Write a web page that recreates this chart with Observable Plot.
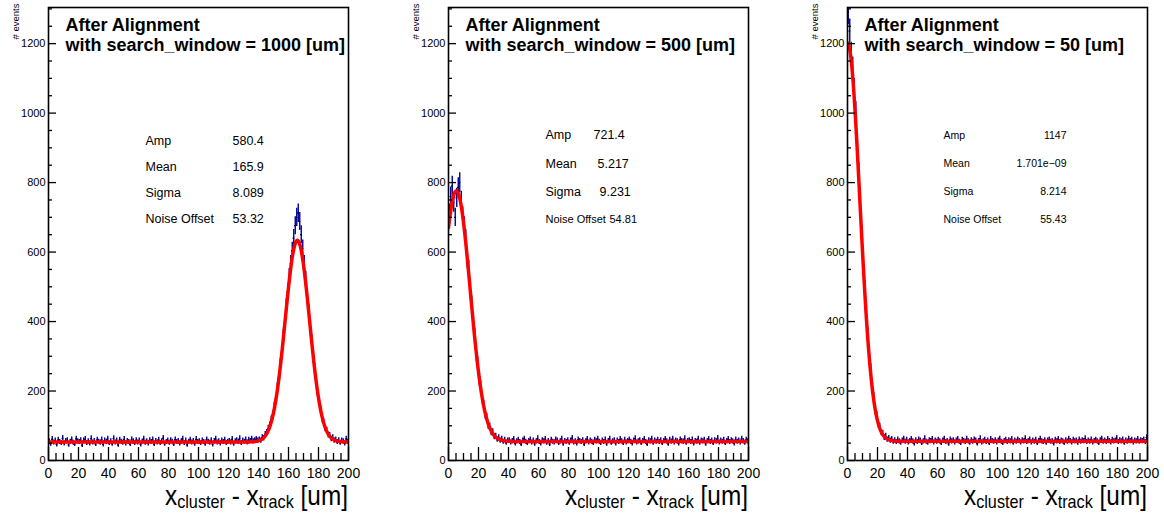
<!DOCTYPE html>
<html>
<head>
<meta charset="utf-8">
<script src="https://cdn.jsdelivr.net/npm/d3@7"></script>
<script src="https://cdn.jsdelivr.net/npm/@observablehq/plot@0.6"></script>
<style>
  body { margin: 0; background: #fff; }
  #chart { position: relative; width: 1164px; height: 513px; overflow: hidden; background: #fff; }
  #chart svg { position: absolute; top: 0; overflow: visible; }
</style>
</head>
<body>
<div id="chart"></div>
<script>
// ---- data ---------------------------------------------------------------
const searchWindows = [1000, 500, 50];           // um
const binWidth = 1;                              // um, histogram range 0..200
const xTicks = d3.range(0, 201, 20);
const yTicks = d3.range(0, 1201, 200);

// residual counts per bin, search_window = 1000 um
const counts1000 = [
  55,48,61,52,57,46,59,53,50,64,49,56,58,45,54,60,51,47,62,55,
  53,58,44,57,61,50,55,49,63,52,56,47,59,54,51,60,46,57,53,62,
  50,55,48,63,52,57,45,59,54,51,61,49,56,53,47,60,55,50,58,52,
  57,46,54,62,51,55,49,58,53,60,47,56,52,59,50,55,64,48,53,57,
  51,58,54,47,60,53,56,49,55,62,50,57,45,54,59,52,56,48,61,53,
  55,50,57,53,48,60,54,51,58,46,56,62,52,55,49,57,53,59,50,54,
  56,52,61,48,55,58,53,63,50,57,54,60,52,59,56,62,55,58,61,57,
  60,57,66,64,75,80,92,101,117,131,155,176,208,238,276,312,358,396,444,486,
  530,566,604,640,676,700,712,688,650,610,566,522,474,430,388,344,298,262,230,190,
  170,146,120,110,92,86,73,72,62,66,57,60,53,58,51,57,55,49,62,54
];
// residual counts per bin, search_window = 500 um
const counts500 = [
  712,760,790,742,700,756,786,800,748,704,676,640,578,552,488,452,396,362,304,282,
  232,214,176,160,130,124,100,98,80,82,68,70,60,66,57,62,54,59,51,57,
  58,52,56,61,49,55,59,53,47,57,62,54,50,56,60,52,57,48,55,63,
  53,49,58,55,61,51,56,47,59,54,52,60,57,50,55,62,48,56,53,58,
  51,57,64,52,55,49,60,56,53,58,47,55,61,52,57,54,50,59,55,62,
  54,50,57,53,60,48,56,62,51,55,58,49,57,53,61,55,50,59,52,56,
  60,54,49,57,63,52,55,58,50,56,61,53,47,58,55,62,51,57,54,59,
  53,58,50,56,61,55,48,59,54,62,52,57,55,49,60,56,53,63,51,56,
  58,53,60,49,56,54,62,51,57,55,59,48,56,61,53,57,50,58,55,64,
  52,57,54,59,50,56,61,53,58,55,49,60,54,57,52,62,56,51,59,55
];
// residual counts per bin, search_window = 50 um
const counts50 = [
  1290,1236,1170,1128,1066,1002,906,828,740,652,560,496,410,366,294,262,204,182,144,130,
  104,98,80,78,66,70,60,64,57,61,54,58,53,60,55,51,57,62,54,59,
  52,56,61,55,49,58,53,60,57,50,55,63,54,51,58,56,61,52,57,54,
  59,55,50,57,62,53,56,48,60,55,58,52,57,61,54,50,59,56,53,62,
  55,51,58,54,60,57,49,56,63,52,55,59,53,57,50,61,56,54,58,52,
  57,62,54,50,56,59,53,58,55,61,51,57,54,60,56,52,58,55,63,53,
  56,60,52,57,54,59,50,56,62,55,53,58,51,57,60,54,56,49,59,55,
  61,53,57,55,50,58,54,62,56,52,59,55,57,51,60,54,58,56,63,53,
  57,54,60,52,56,59,55,50,58,62,54,57,53,61,56,52,59,55,57,64,
  53,58,55,60,51,57,54,62,56,59,52,57,55,61,54,58,56,60,53,66
];

// Gaussian + constant fit results
const fitAmp    = [580.4, 721.4, 1147];
const fitMean   = [165.9, 5.217, 1.701e-9];
const fitSigma  = [8.089, 9.231, 8.214];
const fitOffset = [53.32, 54.81, 55.43];

const countsList = [counts1000, counts500, counts50];

// ---- layout / style -----------------------------------------------------
const FONT = '"Liberation Sans", Arial, Helvetica, sans-serif';
const BLUE = "#00009c";
const W = 365, H = 513;
const M = {left: 48, right: 17, top: 7, bottom: 53};
const frameW = W - M.left - M.right;   // 300
const frameH = H - M.top - M.bottom;   // 453
const panelLeft = [0, 400, 799];

// stats box layout for each panel (offsets from the frame's top-left corner);
// each row is sized to fit the box, so row font sizes can differ
const statsLayout = [
  {labelDx: 97, rows: [133, 159, 185, 211], fontSize: [12.5, 12.5, 12.5, 12.5], valueDx: [184, 184, 184, 184], anchor: "start"},
  {labelDx: 97, rows: [127, 156, 184, 212], fontSize: [12.5, 12.5, 12.5, 11], valueDx: [145, 149, 151, 161], anchor: "start"},
  {labelDx: 96, rows: [128, 156, 184, 212], fontSize: [10.5, 10.5, 10.5, 10.5], valueDx: [219, 219, 219, 219], anchor: "end"}
];

function fmt(v) {
  if (v !== 0 && Math.abs(v) < 1e-3) {
    const [m, e] = v.toExponential(3).split("e");
    const ev = Math.abs(+e);
    return `${m}e${+e < 0 ? "\u2212" : "+"}${String(ev).padStart(2, "0")}`;
  }
  return d3.format(".4g")(v);
}

function panel(i) {
  const counts = countsList[i];
  const bins = counts.map((n, k) => ({
    x0: k * binWidth, x1: (k + 1) * binWidth, xc: (k + 0.5) * binWidth, n, err: Math.sqrt(n)
  }));
  const A = fitAmp[i], mu = fitMean[i], s = fitSigma[i], c = fitOffset[i];
  const fit = d3.range(0, 200.0001, 0.25).map(x => ({x, y: A * Math.exp(-0.5 * ((x - mu) / s) ** 2) + c}));

  const xMinor = d3.range(0, 201, 5).filter(v => v % 20);
  const yMinor = d3.range(0, 1301, 50).filter(v => v % 200);

  const st = statsLayout[i];
  const statNames = ["Amp", "Mean", "Sigma", "Noise Offset"];
  const statVals = [A, mu, s, c].map(fmt);
  const statMarks = [];
  statNames.forEach((name, r) => {
    statMarks.push(Plot.text([name], {frameAnchor: "top-left", dx: st.labelDx, dy: st.rows[r],
      textAnchor: "start", lineAnchor: "middle", fontSize: st.fontSize[r], fill: "black"}));
    statMarks.push(Plot.text([statVals[r]], {frameAnchor: "top-left", dx: st.valueDx[r], dy: st.rows[r],
      textAnchor: st.anchor, lineAnchor: "middle", fontSize: st.fontSize[r], fill: "black"}));
  });

  const svg = Plot.plot({
    width: W, height: H,
    marginLeft: M.left, marginRight: M.right, marginTop: M.top, marginBottom: M.bottom,
    x: {domain: [0, 200]},
    y: {domain: [0, 1304]},
    style: {fontFamily: FONT, background: "transparent", color: "black"},
    marks: [
      // histogram: statistical error bars, bin-width bars, bin markers
      Plot.ruleX(bins, {x: "xc", y1: d => d.n - d.err, y2: d => d.n + d.err, stroke: BLUE, strokeWidth: 1.4, clip: true}),
      Plot.ruleY(bins, {y: "n", x1: "x0", x2: "x1", stroke: BLUE, strokeWidth: 1.2, clip: true}),
      Plot.dot(bins, {x: "xc", y: "n", r: 0.7, fill: "black", stroke: null, clip: true}),
      // fitted function
      Plot.line(fit, {x: "x", y: "y", stroke: "#ff0000", strokeWidth: 3.5, clip: true}),
      // inward ticks
      Plot.tickX(xMinor, {x: d => d, insetTop: frameH - 7, stroke: "black", strokeWidth: 1.3}),
      Plot.tickX(xTicks, {x: d => d, insetTop: frameH - 13, stroke: "black", strokeWidth: 1.3}),
      Plot.tickY(yMinor, {y: d => d, insetRight: frameW - 4, stroke: "black", strokeWidth: 1.3}),
      Plot.tickY(yTicks, {y: d => d, insetRight: frameW - 8, stroke: "black", strokeWidth: 1.3}),
      Plot.frame({stroke: "black", strokeWidth: 1.6}),
      Plot.axisX({ticks: xTicks, tickSize: 0, tickPadding: 8, fontSize: 14, label: null, tickFormat: d3.format("d")}),
      Plot.axisY({ticks: yTicks, tickSize: 0, tickPadding: 3, fontSize: 11, label: null, tickFormat: d3.format("d")}),
      // axis title (y)
      Plot.text(["# events"], {frameAnchor: "top-left", dx: -33, dy: -4, rotate: -90,
        textAnchor: "end", lineAnchor: "middle", fontSize: 9.5, fill: "black"}),
      // titles
      Plot.text(["After Alignment"], {frameAnchor: "top-left", dx: 17, dy: 17.5,
        textAnchor: "start", lineAnchor: "middle", fontSize: 18, fontWeight: "bold", fill: "black"}),
      Plot.text([`with search_window = ${searchWindows[i]} [um]`], {frameAnchor: "top-left", dx: 17, dy: 37.5,
        textAnchor: "start", lineAnchor: "middle", fontSize: 18, fontWeight: "bold", fill: "black"}),
      ...statMarks
    ]
  });
  svg.style.left = panelLeft[i] + "px";
  document.getElementById("chart").appendChild(svg);

  // x axis title with subscripts
  const F = 27, f = 18, shift = 3;
  const t = d3.select(svg).append("text")
    .attr("font-family", FONT).attr("font-size", F).attr("fill", "black")
    .attr("text-anchor", "start");
  t.append("tspan").text("x");
  t.append("tspan").attr("font-size", f).attr("dy", shift).text("cluster");
  t.append("tspan").attr("dy", -shift).text(" - x");
  t.append("tspan").attr("font-size", f).attr("dy", shift).text("track");
  t.append("tspan").attr("dy", -shift).text(" [um]");
  const w = t.node().getBBox().width;
  const targetW = 183;
  const sx = targetW / w;
  t.attr("transform", `translate(${M.left + frameW - targetW},505) scale(${sx},1)`);
}

[0, 1, 2].forEach(panel);
</script>
</body>
</html>
